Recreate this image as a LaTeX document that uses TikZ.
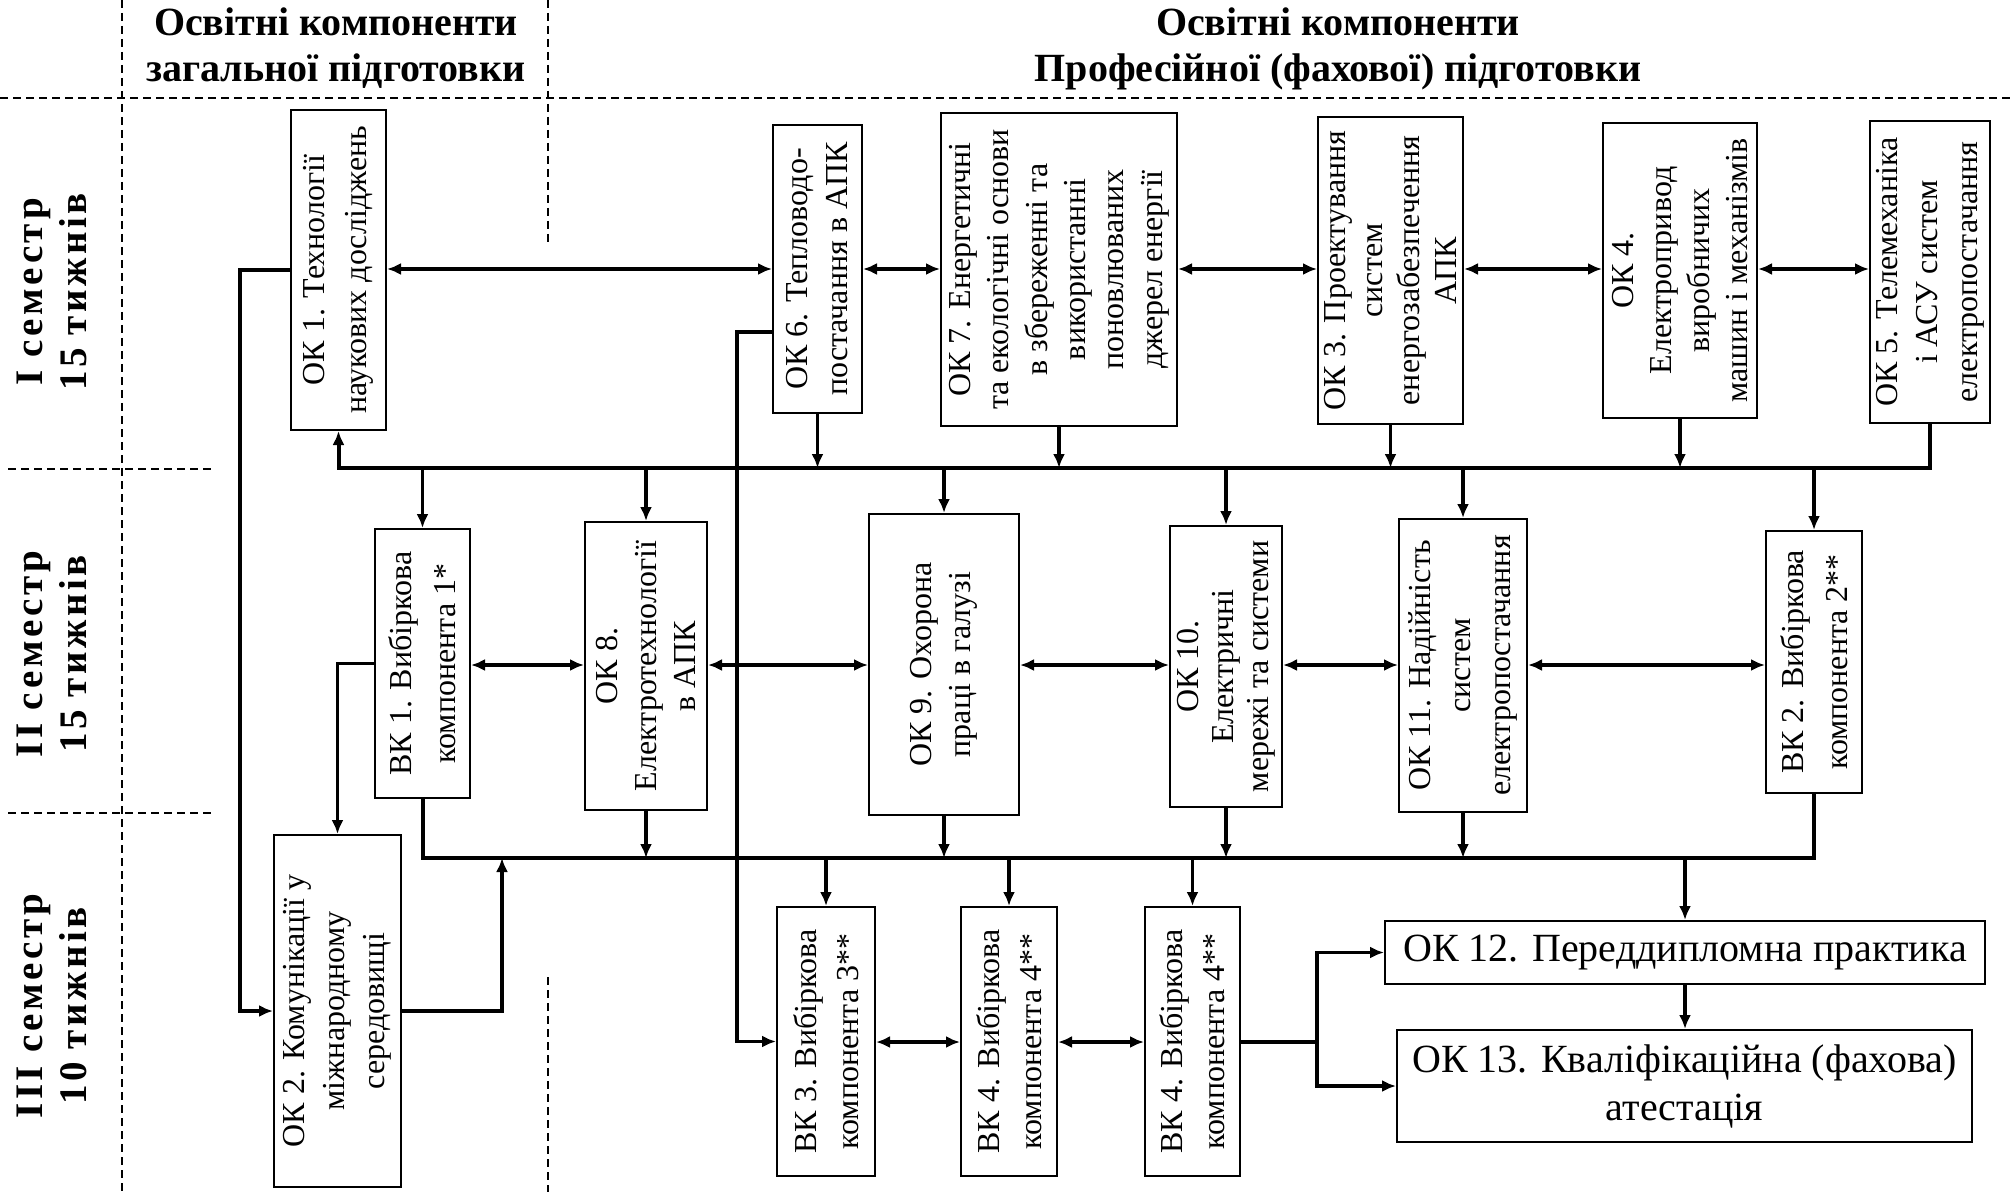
\documentclass[tikz,border=0pt]{standalone}
\usepackage{fontspec}
\setmainfont{Liberation Serif}
\newfontfamily\semfont[LetterSpace=9]{Liberation Serif}
\usetikzlibrary{arrows.meta}
\newcommand\vbx[7][19.5]{%
  \node[box, minimum width=#5pt, minimum height=#6pt] (#2) at (#3,#4) {};
  \node[vtext, font=\fontsize{16}{#1}\selectfont] (#2t) at (#2.center) {#7};}
\begin{document}
\begin{tikzpicture}[x=0.5pt,y=-0.5pt,
  box/.style={draw, line width=1pt, inner sep=0pt},
  vtext/.style={rotate=90, align=center, inner sep=0pt},
  conn/.style={line width=1.7pt},
  bus/.style={line width=2pt},
  tip/.tip={Latex[length=7pt,width=6pt]},
  arr/.style={conn, -tip},
  busarr/.style={bus, -tip},
  biarr/.style={conn, tip-tip},
  sep/.style={dash pattern=on 4pt off 2.5pt, line width=0.7pt},
  hdr/.style={font=\bfseries\fontsize{20}{23}\selectfont, inner sep=0pt, anchor=base},
  sem/.style={font=\semfont\bfseries\fontsize{19.5}{22}\selectfont, align=center, rotate=90, inner sep=0pt},
  htext/.style={font=\fontsize{20}{24}\selectfont, align=center, inner sep=0pt},
]
\useasboundingbox (0,0) rectangle (2011,1192);

% separators
\draw[sep] (0,98) -- (2011,98);
\draw[sep] (122,0) -- (122,1192);
\draw[sep] (548,0) -- (548,243);
\draw[sep] (548,977) -- (548,1192);
\draw[sep] (8,469) -- (215,469);
\draw[sep] (8,813) -- (215,813);

% headers
\node[hdr] (h1a) at (336,36) {Освітні компоненти};
\node[hdr] (h1b) at (336,82) {загальної підготовки};
\node[hdr] (h2a) at (1338,36) {Освітні компоненти};
\node[hdr] (h2b) at (1338,82) {Професійної (фахової) підготовки};

% semesters
\node[sem] (s1) at (51.5,292) {I семестр\\15 тижнів};
\node[sem] (s2) at (51.5,654) {II семестр\\15 тижнів};
\node[sem] (s3) at (51.5,1006) {III семестр\\10 тижнів};

% row 1
\vbx[21]{ok1}{338.5}{270}{47.5}{160}{ОК 1. Технології\\наукових досліджень}
\vbx[20]{ok6}{817.5}{269}{44.5}{144}{ОК 6. Тепловодо-\\постачання в АПК}
\vbx[19.2]{ok7}{1059}{269.5}{118}{156.5}{ОК 7. Енергетичні\\та екологічні основи\\в збереженні та\\використанні\\поновлюваних\\джерел енергії}
\vbx[18.5]{ok3}{1390.5}{270.5}{72.5}{153.5}{ОК 3. Проектування\\систем\\енергозабезпечення\\АПК}
\vbx[19]{ok4}{1680}{270.5}{77}{147.5}{ОК 4.\\Електропривод\\виробничих\\машин і механізмів}
\vbx[20]{ok5}{1930}{272}{60}{151}{ОК 5. Телемеханіка\\і АСУ систем\\електропостачання}

% row 2
\vbx[22]{vk1}{422.5}{663.5}{47.5}{134.5}{ВК 1. Вибіркова\\компонента 1*}
\vbx[19.5]{ok8}{646}{666}{61}{144}{ОК 8.\\Електротехнології\\в АПК}
\vbx[19.5]{ok9}{944}{664.5}{75}{150.5}{ОК 9. Охорона\\праці в галузі}
\vbx[17.5]{ok10}{1226}{666.5}{56}{140.5}{ОК 10.\\Електричні\\мережі та системи}
\vbx[20]{ok11}{1463}{665.5}{64}{146.5}{ОК 11. Надійність\\систем\\електропостачання}
\vbx[22]{vk2}{1814}{662}{48}{131}{ВК 2. Вибіркова\\компонента 2**}

% row 3
\vbx[20]{ok2}{337.5}{1011}{63.5}{176}{ОК 2. Комунікації у\\міжнародному\\середовищі}
\vbx[21]{vk3}{826}{1041.5}{49}{134.5}{ВК 3. Вибіркова\\компонента 3**}
\vbx[21]{vk4a}{1009}{1041.5}{48}{134.5}{ВК 4. Вибіркова\\компонента 4**}
\vbx[21]{vk4b}{1192.5}{1041.5}{47.5}{134.5}{ВК 4. Вибіркова\\компонента 4**}
\node[box, htext, minimum width=300pt, minimum height=31.5pt] (ok12) at (1685,952.5) {ОК 12. Переддипломна практика};
\node[box, htext, minimum width=287.5pt, minimum height=56pt] (ok13) at (1684.5,1086) {ОК 13. Кваліфікаційна (фахова)\\атестація};

% helper coordinates
\coordinate (r1) at (0,269);
\coordinate (r2) at (0,665);
\coordinate (r3) at (0,1042);
\coordinate (b1) at (0,468);
\coordinate (b2) at (0,858);
\coordinate (sp) at (1317,1042);
\coordinate (l1) at (240,270);
\coordinate (j2) at (502,858);
\coordinate (k6) at (737,332);

% row 1 links
\foreach \a/\b in {ok1/ok6, ok6/ok7, ok7/ok3, ok3/ok4, ok4/ok5}
  \draw[biarr] (\a.east |- r1) -- (\b.west |- r1);
\draw[busarr] (ok5.south) |- (ok1.south |- b1) -- (ok1.south);
\foreach \a in {ok6, ok7, ok3, ok4}
  \draw[arr] (\a.south) -- (\a.south |- b1);
\foreach \a in {vk1, ok8, ok9, ok10, ok11, vk2}
  \draw[arr] (\a.north |- b1) -- (\a.north);

% row 2 links
\foreach \a/\b in {vk1/ok8, ok8/ok9, ok9/ok10, ok10/ok11, ok11/vk2}
  \draw[biarr] (\a.east |- r2) -- (\b.west |- r2);
\draw[bus] (vk1.south) |- (vk2.south |- b2) -- (vk2.south);
\foreach \a in {ok8, ok9, ok10, ok11}
  \draw[arr] (\a.south) -- (\a.south |- b2);
\foreach \a in {vk3, vk4a, vk4b, ok12}
  \draw[arr] (\a.north |- b2) -- (\a.north);

% row 3 links
\foreach \a/\b in {vk3/vk4a, vk4a/vk4b}
  \draw[biarr] (\a.east |- r3) -- (\b.west |- r3);
\draw[conn] (vk4b.east |- r3) -- (sp);
\draw[arr] (sp) |- (ok12.west);
\draw[arr] (sp) |- (ok13.west);
\draw[arr] (ok12.south) -- (ok12.south |- ok13.north);

% side links
\draw[arr] (ok1.west) -- (l1) |- (ok2.west);
\draw[arr] (vk1.west) -| (ok2.north);
\draw[arr] (ok2.east) -| (j2);
\draw[arr] (ok6.west |- k6) -- (k6) |- (vk3.west);
\end{tikzpicture}
\end{document}
